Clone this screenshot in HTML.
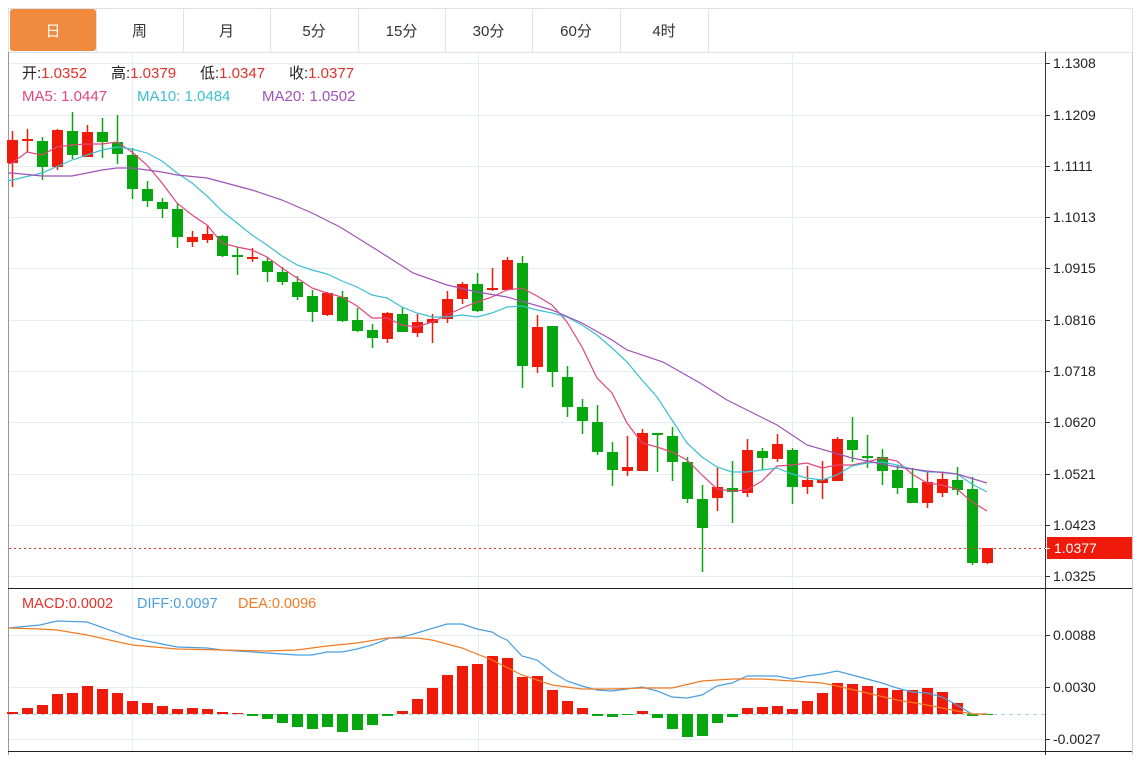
<!DOCTYPE html>
<html><head><meta charset="utf-8"><style>
body{margin:0;background:#fff;width:1142px;height:755px;overflow:hidden;font-family:"Liberation Sans","Noto Sans CJK SC",sans-serif}
svg text{font-family:"Liberation Sans","Noto Sans CJK SC",sans-serif}
</style></head><body>
<svg id="s" width="1142" height="755" xmlns="http://www.w3.org/2000/svg"></svg>
<script>
const s=document.getElementById('s');let h='';
const R='#f01a0a',G='#06a70e';
h+='<rect x="8.5" y="8.5" width="1124" height="44" fill="#fff" stroke="#dfe3e8"/>';
h+='<rect x="10" y="9" width="86" height="42" rx="3" fill="#f08a3e"/>';
const tb=[10,96,183,270,358,445,532,620,708],tl=['日','周','月','5分','15分','30分','60分','4时'];
for(let i=0;i<8;i++){if(i>0)h+=`<line x1="${tb[i]+.5}" y1="9" x2="${tb[i]+.5}" y2="52" stroke="#dfe3e8"/>`;
h+=`<text x="${(tb[i]+tb[i+1])/2}" y="36" font-size="15" text-anchor="middle" fill="${i?'#333':'#fff'}">${tl[i]}</text>`;}
h+='<line x1="708.5" y1="9" x2="708.5" y2="52" stroke="#dfe3e8"/>';
h+='<line x1="8.5" y1="52" x2="8.5" y2="755" stroke="#999"/>';
h+='<line x1="1045.5" y1="52" x2="1045.5" y2="755" stroke="#333"/>';
h+='<line x1="1132.5" y1="52" x2="1132.5" y2="755" stroke="#ccc"/>';
h+='<line x1="8" y1="588.5" x2="1132" y2="588.5" stroke="#222"/>';
h+='<line x1="8" y1="751.5" x2="1132" y2="751.5" stroke="#222"/>';
const py=[[63,'1.1308'],[115,'1.1209'],[166,'1.1111'],[217,'1.1013'],[268,'1.0915'],[320,'1.0816'],[371,'1.0718'],[422,'1.0620'],[474,'1.0521'],[525,'1.0423'],[576,'1.0325']];
for(const [y,t] of py){h+=`<line x1="9" y1="${y+.5}" x2="1045" y2="${y+.5}" stroke="#e6ecf1"/><line x1="1045" y1="${y+.5}" x2="1050" y2="${y+.5}" stroke="#333"/><text x="1053" y="${y+5}" font-size="14" fill="#222">${t}</text>`;}
const my=[[635,'0.0088'],[687,'0.0030'],[739,'-0.0027']];
for(const [y,t] of my){h+=`<line x1="9" y1="${y+.5}" x2="1045" y2="${y+.5}" stroke="#e6ecf1"/><line x1="1045" y1="${y+.5}" x2="1050" y2="${y+.5}" stroke="#333"/><text x="1053" y="${y+5}" font-size="14" fill="#222">${t}</text>`;}
for(const x of [132,478,792]){h+=`<line x1="${x+.5}" y1="52" x2="${x+.5}" y2="588" stroke="#e6ecf1"/><line x1="${x+.5}" y1="589" x2="${x+.5}" y2="751" stroke="#e6ecf1"/>`;}
h+='<text y="78" font-size="15"><tspan x="22" fill="#222">开:</tspan><tspan fill="#e0302a">1.0352</tspan><tspan x="111" fill="#222">高:</tspan><tspan fill="#e0302a">1.0379</tspan><tspan x="200" fill="#222">低:</tspan><tspan fill="#e0302a">1.0347</tspan><tspan x="289" fill="#222">收:</tspan><tspan fill="#e0302a">1.0377</tspan></text>';
h+='<text y="101" font-size="15"><tspan x="22" fill="#e0457b">MA5: 1.0447</tspan><tspan x="137" fill="#3bbfd2">MA10: 1.0484</tspan><tspan x="262" fill="#a052b8">MA20: 1.0502</tspan></text>';
h+='<text y="608" font-size="14.5"><tspan x="22" fill="#e0302a">MACD:0.0002</tspan><tspan x="137" fill="#4a9fe0">DIFF:0.0097</tspan><tspan x="238" fill="#f07b22">DEA:0.0096</tspan></text>';
const C=[['r',140,163,131,187],['r',139,141,129,152],['g',141,167,137,180],['r',130,167,129,170],['g',131,155,112,159],['r',132,157,125,157],['g',132,142,118,158],['g',142,154,115,164],['g',155,189,148,199],['g',189,201,181,207],['g',202,209,198,218],['g',209,237,203,248],['r',237,242,231,247],['r',234,240,225,243],['g',236,256,235,257],['g',255,257,247,275],['r',257,259,248,262],['g',261,272,257,282],['g',272,282,267,285],['g',282,297,276,300],['g',296,312,290,322],['r',293,315,292,316],['g',297,321,291,322],['g',320,331,308,332],['g',330,338,324,348],['r',313,339,312,343],['g',314,332,307,332],['r',322,333,314,337],['r',319,323,314,343],['r',299,319,291,323],['r',284,299,282,304],['g',284,311,273,312],['r',288,290,268,291],['r',260,290,257,290],['g',263,366,256,388],['r',327,367,315,373],['g',326,372,326,387],['g',377,407,366,417],['g',407,421,399,434],['g',422,452,405,455],['g',452,470,442,486],['r',467,471,436,476],['r',433,471,429,471],['g',433,435,433,472],['g',436,462,427,481],['g',462,499,457,503],['g',499,528,485,572],['r',487,498,468,511],['g',488,492,461,523],['r',450,493,439,497],['g',451,458,448,470],['r',444,459,434,462],['g',450,487,448,504],['r',480,487,466,494],['r',479,483,461,499],['r',439,481,437,481],['g',440,450,417,462],['g',456,458,435,468],['g',457,471,449,485],['g',470,488,465,494],['g',488,503,468,503],['r',482,503,472,508],['r',479,493,472,497],['g',480,490,467,495],['g',489,563,477,565],['r',548,563,548,564]];
C.forEach((c,i)=>{const x=12+15*i,col=c[0]=='r'?R:G;
h+=`<line x1="${x+.5}" y1="${c[3]}" x2="${x+.5}" y2="${c[4]}" stroke="${col}" stroke-width="1.5"/>`;
h+=`<rect x="${x-5}" y="${c[1]}" width="11" height="${Math.max(2,c[2]-c[1])}" fill="${col}"/>`;});
const pl=(pts,col)=>{h+=`<polyline fill="none" stroke="${col}" stroke-width="1.2" points="${pts}"/>`;};
pl('8,164 12,163 27,152 42,155 57,147 72,145 87,144 102,144 117,142 132,152 147,165 162,183 177,203 192,215 207,225 222,243 237,247 252,250 267,257 282,268 297,278 312,288 327,293 342,297 357,306 372,318 387,318 402,325 417,327 432,322 447,315 462,308 477,302 492,297 507,290 522,288 537,296 552,305 567,322 582,347 597,378 612,393 627,423 642,443 657,447 672,452 687,460 702,475 717,489 732,491 747,490 762,481 777,466 792,465 807,463 822,468 837,465 852,465 867,462 882,458 897,461 912,474 927,483 942,485 957,489 972,502 987,511','#e0457b');
pl('8,181 12,180 42,173 72,160 102,150 117,147 132,149 147,153 162,161 177,173 192,183 207,196 222,211 237,223 252,235 267,245 282,256 297,265 312,270 327,274 342,281 357,287 372,295 387,298 402,307 417,313 432,317 447,317 462,315 477,317 492,313 507,307 522,306 537,310 552,313 567,317 582,325 597,335 612,348 627,362 642,380 657,397 672,420 687,443 702,457 717,467 732,472 747,472 762,470 777,468 792,474 807,478 822,480 837,475 852,466 867,463 882,462 897,465 912,469 927,472 942,472 957,474 972,484 987,492','#3bbfd2');
pl('8,173 12,173 42,176 72,176 102,170 117,168 132,168 147,170 162,172 177,175 207,178 222,182 252,190 282,200 312,213 340,227 377,250 413,273 447,285 477,292 507,297 552,310 582,323 612,340 627,350 663,362 700,383 727,400 777,425 807,445 852,458 897,467 927,471 957,474 987,483','#a052b8');
h+='<line x1="9" y1="548.5" x2="1045" y2="548.5" stroke="#e0302a" stroke-dasharray="2,3"/>';
h+='<rect x="1047" y="537" width="85" height="22" fill="#f01a0a"/><line x1="1045" y1="548.5" x2="1050" y2="548.5" stroke="#fff"/><text x="1054" y="553" font-size="14" fill="#fff">1.0377</text>';
h+='<line x1="9" y1="714.5" x2="1045" y2="714.5" stroke="#a9d6e5" stroke-dasharray="4,4"/>';
const M=[712,708,705,694,693,686,689,693,701,703,706,709,708,709,712,713,716,719,723,727,729,727,732,730,725,716,711,699,688,675,666,664,656,658,677,676,690,701,708,716,717,715,711,718,729,737,736,723,717,708,707,706,709,701,693,683,684,686,688,690,690,688,692,703,716,715];
M.forEach((y,i)=>{const x=12+15*i;const up=y<714;const t=up?y:714,hh=Math.max(1,Math.abs(714-y));
h+=`<rect x="${x-5}" y="${t}" width="11" height="${hh}" fill="${up?R:G}"/>`;});
pl('8,628 40,625 57,621 87,622 132,638 177,647 207,648 222,650 267,653 297,655 312,655 327,652 342,652 357,649 372,645 390,638 402,637 417,633 447,624 462,624 477,629 492,632 500,637 507,640 522,656 537,660 552,672 567,681 582,686 597,690 612,691 627,689 642,687 657,691 672,697 687,698 702,695 717,686 732,683 747,676 762,676 777,676 792,679 807,676 822,674 837,671 852,675 867,679 882,683 897,688 912,692 927,693 942,697 957,705 972,714 987,714','#4a9fe0');
pl('8,628 40,629 57,630 87,635 132,645 177,649 222,650 267,651 297,650 327,646 357,643 387,638 417,638 432,640 462,648 492,660 500,664 522,675 552,685 582,689 612,689 642,688 672,688 702,681 732,679 762,679 792,681 822,683 837,686 867,693 897,700 927,705 957,711 972,714 987,714','#f07b22');
s.innerHTML=h;
</script>
</body></html>
